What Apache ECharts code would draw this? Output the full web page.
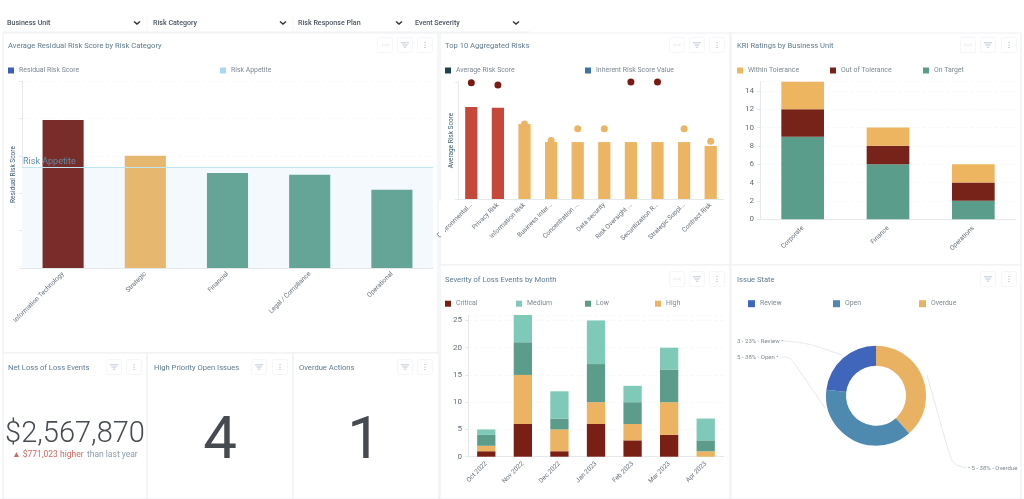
<!DOCTYPE html>
<html><head><meta charset="utf-8">
<style>html,body{margin:0;padding:0;background:#fff;overflow:hidden}#c{width:1024px;height:499px}</style>
<script src="https://cdn.jsdelivr.net/npm/echarts@6/dist/echarts.min.js"></script></head>
<body><div id="c"></div>
<script>
const filterLabels=['Business Unit','Risk Category','Risk Response Plan','Event Severity'];
const riskCategories=['Information Technology','Strategic','Financial','Legal / Compliance','Operational'];
const residualScores=[3.96,3.0,2.54,2.49,2.09];
const riskAppetite=2.7;
const topRisks=['Environmental...','Privacy Risk','Information Risk','Business Inter...','Concentration ...','Data security','Risk Oversight ...','Securitization R...','Strategic Suppl...','Contract Risk'];
const avgRiskScores=[11.8,11.7,9.6,7.3,7.3,7.3,7.3,7.3,7.3,6.8];
const inherentScores=[14.9,14.6,9.6,7.5,9,9,15,15,9,7.4];
const businessUnits=['Corporate','Finance','Operations'];
const kriOnTarget=[9,6,2];
const kriOut=[3,2,2];
const kriWithin=[3,2,2];
const months=['Oct 2022','Nov 2022','Dec 2022','Jan 2023','Feb 2023','Mar 2023','Apr 2023'];
const sevCritical=[1,6,1,6,3,4,0];
const sevHigh=[1,9,4,4,3,6,1];
const sevLow=[2,6,2,7,4,6,2];
const sevMedium=[1,5,5,8,3,4,4];
const issueStates=['Overdue','Open','Review'];
const issueCounts=[5,5,3];

const FONT='Roboto';
const TEAL='#64a597',ORANGE='#e6b76e',MAROON='#782d2a';
const residualColors=[MAROON,ORANGE,TEAL,TEAL,TEAL];
const avgColors=['#c5483a','#c5483a','#ecb563','#ecb563','#ecb563','#ecb563','#ecb563','#ecb563','#ecb563','#ecb563'];
const inhColors=['#7a1a14','#7a1a14','#ecb563','#ecb563','#ecb563','#ecb563','#7a1a14','#7a1a14','#ecb563','#ecb563'];
const pieColors=['#e9b262','#4e8ab0','#3f66bb'];

const panels=[[3,33,435,320],[440,33,290,232],[731,33,290,232],[440,265,290,234],[731,265,290,234],[3,353,144,146],[147,353,146,146],[293,353,146,146]];
const titles=[['Average Residual Risk Score by Risk Category',8,45.5],['Top 10 Aggregated Risks',445,45.5],['KRI Ratings by Business Unit',737,45.5],['Severity of Loss Events by Month',445,279],['Issue State',737,279],['Net Loss of Loss Events',8,367],['High Priority Open Issues',154,367],['Overdue Actions',299,367]];
const iconSets=[[385,405,425,45],[677,697,717,45],[968,988,1009,45],[677,697,717,279],[null,988,1009,279],[null,114,134,367],[null,259,280,367],[null,405,425,367]];
const filterPos=[[7,137],[153,283],[298,399],[415,516]];

const g=[];
panels.forEach(p=>g.push({type:'rect',z:0,shape:{x:p[0],y:p[1],width:p[2],height:p[3]},style:{fill:'#fff',stroke:'#eef0f2',lineWidth:1.2}}));
g.push({type:'line',z:0,shape:{x1:3,y1:32,x2:530,y2:32},style:{stroke:'#eef0f2',lineWidth:1}});
[147,293,397].forEach(x=>g.push({type:'line',z:0,shape:{x1:x,y1:16,x2:x,y2:32},style:{stroke:'#f4f5f6',lineWidth:1}}));
filterLabels.forEach((t,i)=>{
  g.push({type:'text',z:5,style:{x:filterPos[i][0],y:23,text:t,fill:'#4b5661',font:'500 7.1px '+FONT,verticalAlign:'middle'}});
  const c=filterPos[i][1];
  g.push({type:'polyline',z:5,shape:{points:[[c-3,21.5],[c,24],[c+3,21.5]]},style:{stroke:'#333',lineWidth:1.5,fill:null}});
});
function box(x,y){g.push({type:'rect',z:3,shape:{x:x-7.5,y:y-7.5,width:15,height:15,r:2},style:{fill:'#fff',stroke:'#f5f6f7',lineWidth:1}});}
iconSets.forEach(s=>{
  const y=s[3];
  if(s[0]!=null){box(s[0],y);const x=s[0];
    g.push({type:'line',z:5,shape:{x1:x-3,y1:y,x2:x+3,y2:y},style:{stroke:'#e6e9eb',lineWidth:.8}});
    g.push({type:'line',z:5,shape:{x1:x-3,y1:y-1.5,x2:x-3,y2:y+1.5},style:{stroke:'#e6e9eb',lineWidth:.8}});
    g.push({type:'line',z:5,shape:{x1:x+3,y1:y-1.5,x2:x+3,y2:y+1.5},style:{stroke:'#e6e9eb',lineWidth:.8}});}
  box(s[1],y);
  [[4,-2.2],[2.6,0],[1.2,2.2]].forEach(a=>g.push({type:'line',z:5,shape:{x1:s[1]-a[0],y1:y+a[1],x2:s[1]+a[0],y2:y+a[1]},style:{stroke:'#8ea3b3',lineWidth:.6}}));
  box(s[2],y);
  [-2.5,0,2.5].forEach(d=>g.push({type:'circle',z:5,shape:{cx:s[2],cy:y+d,r:.6},style:{fill:'#95a1ab'}}));
});
g.push({type:'rect',z:50,shape:{x:439,y:201,width:6,height:35},style:{fill:'#fff'}});
g.push({type:'text',z:5,style:{x:75,y:435,text:'$2,567,870',fill:'#454b50',font:'300 29px '+FONT,align:'center',verticalAlign:'middle'}});
g.push({type:'text',z:5,style:{x:75,y:454.5,align:'center',verticalAlign:'middle',text:'{a|▲ $771,023 higher} {b|than last year}',rich:{a:{fill:'#cb6a64',font:'8.5px '+FONT},b:{fill:'#8b9cab',font:'8.5px '+FONT}}}});
g.push({type:'text',z:5,style:{x:220,y:443,text:'4',fill:'#454b50',font:'400 60px '+FONT,align:'center',verticalAlign:'middle'}});
g.push({type:'text',z:5,style:{x:364,y:443,text:'1',fill:'#454b50',font:'400 60px '+FONT,align:'center',verticalAlign:'middle'}});

const grids=[{left:22,top:81,width:411,height:187},{left:458,top:82,width:266,height:117},{left:760,top:81.7,width:256,height:137.5},{left:468,top:315,width:256,height:141.7}];
const lineC='#e6e9ec',labC='#626d77';
function xA(i,data,margin){return {type:'category',gridIndex:i,data,axisTick:{show:false},axisLine:{lineStyle:{color:lineC}},axisLabel:{rotate:45,fontSize:6.5,color:labC,fontFamily:FONT,margin:margin||6,interval:0}};}
function yA(i,max,interval,showLabels,extra){return Object.assign({type:'value',gridIndex:i,min:0,max,interval,axisLine:{show:true,lineStyle:{color:lineC}},axisTick:{show:true,length:3,lineStyle:{color:lineC}},splitLine:{lineStyle:{color:'#f8f9fa',type:'dashed'}},axisLabel:{show:showLabels,fontSize:8,color:labC,fontFamily:FONT,margin:6,showMaxLabel:false,padding:[0,0,3,0]}},extra||{});}
const yName=(n,gap)=>({name:n,nameLocation:'middle',nameGap:gap,nameTextStyle:{fontSize:6.5,color:'#3f5f75',fontFamily:FONT}});
function leg(name,x,y,size){return {show:true,data:[name],left:x,top:y-2.5,orient:'horizontal',selectedMode:false,itemWidth:size||6,itemHeight:size||6,itemGap:3,padding:0,icon:'rect',textStyle:{fontSize:6.9,color:'#7d8993',fontFamily:FONT}};}

const total=issueCounts.reduce((a,b)=>a+b,0);
const pieLabelPos={Overdue:[968,468,'left'],Open:[737,357,'left'],Review:[737,341,'left']};
const pieLeaders={Overdue:[[927,375],[952,464],[967,468]],Open:[[780,357],[790,357],[825,408]],Review:[[783,341],[807,343],[842,355]]};

const option={
  animation:false,backgroundColor:'#fff',textStyle:{fontFamily:FONT},
  title:titles.map(t=>({text:t[0],left:t[1],top:t[2]-3,padding:0,textStyle:{fontSize:7.6,fontWeight:'normal',color:'#5f7a8d',fontFamily:FONT}})),
  graphic:{elements:g},
  grid:grids,
  legend:[leg('Residual Risk Score',8,69.5),leg('Risk Appetite',220,69.5),leg('Average Risk Score',445,69.5),leg('Inherent Risk Score Value',585,69.5),
    leg('Within Tolerance',737,69.5),leg('Out of Tolerance',830,69.5),leg('On Target',923,69.5),
    leg('Critical',445,302.7),leg('Medium',516,302.7),leg('Low',585,302.7),leg('High',655,302.7),
    leg('Review',748,302.7,7),leg('Open',833,302.7,7),leg('Overdue',919,302.7,7)],
  xAxis:[xA(0,riskCategories,5),xA(1,topRisks,5),xA(2,businessUnits,8),xA(3,months,6)],
  yAxis:[yA(0,5,1,false,yName('Residual Risk Score',5)),yA(1,15,15,false,Object.assign(yName('Average Risk Score',3),{splitLine:{show:false}})),yA(2,15,2,true),yA(3,26,5,true)],
  series:[
    {name:'Risk Appetite',type:'line',xAxisIndex:0,yAxisIndex:0,z:1,data:[],itemStyle:{color:'#a9d8f2'},symbol:'none',lineStyle:{width:0},
      markArea:{silent:true,itemStyle:{color:'#f3f9fd'},data:[[{yAxis:0},{yAxis:riskAppetite}]]}},
    {name:'Residual Risk Score',type:'bar',xAxisIndex:0,yAxisIndex:0,z:2,barWidth:'50%',itemStyle:{color:'#3a5fb5'},
      data:residualScores.map((v,i)=>({value:v,itemStyle:{color:residualColors[i]}})),
      markLine:{silent:true,z:5,symbol:'none',lineStyle:{color:'#bfe6f0',type:'solid',width:1},
        label:{show:true,position:'insideStartTop',formatter:'Risk Appetite',fontSize:9,color:'#5f8ea5',fontFamily:FONT,distance:[1,1]},data:[{yAxis:riskAppetite}]}},
    {name:'Average Risk Score',type:'bar',xAxisIndex:1,yAxisIndex:1,barWidth:'46%',itemStyle:{color:'#1f4250'},
      data:avgRiskScores.map((v,i)=>({value:v,itemStyle:{color:avgColors[i]}}))},
    {name:'Inherent Risk Score Value',type:'scatter',xAxisIndex:1,yAxisIndex:1,symbolSize:7,z:3,itemStyle:{color:'#3f72a5',opacity:1},
      data:inherentScores.map((v,i)=>({value:v,itemStyle:{color:inhColors[i],opacity:1}}))},
    {name:'On Target',type:'bar',stack:'k',xAxisIndex:2,yAxisIndex:2,barWidth:'50%',itemStyle:{color:'#5a9d8b'},data:kriOnTarget},
    {name:'Out of Tolerance',type:'bar',stack:'k',xAxisIndex:2,yAxisIndex:2,barWidth:'50%',itemStyle:{color:'#77231a'},data:kriOut},
    {name:'Within Tolerance',type:'bar',stack:'k',xAxisIndex:2,yAxisIndex:2,barWidth:'50%',itemStyle:{color:'#eeb561'},data:kriWithin},
    {name:'Critical',type:'bar',stack:'s',xAxisIndex:3,yAxisIndex:3,barWidth:'50%',itemStyle:{color:'#7a1f14'},data:sevCritical},
    {name:'High',type:'bar',stack:'s',xAxisIndex:3,yAxisIndex:3,barWidth:'50%',itemStyle:{color:'#ebb362'},data:sevHigh},
    {name:'Low',type:'bar',stack:'s',xAxisIndex:3,yAxisIndex:3,barWidth:'50%',itemStyle:{color:'#5b9d8a'},data:sevLow},
    {name:'Medium',type:'bar',stack:'s',xAxisIndex:3,yAxisIndex:3,barWidth:'50%',itemStyle:{color:'#7fc9b8'},data:sevMedium},
    {name:'Issue State',type:'pie',center:[876,395.7],radius:[30,50],startAngle:90,clockwise:true,
      data:issueStates.map((n,i)=>({name:n,value:issueCounts[i],itemStyle:{color:pieColors[i]}})),
      label:{formatter:p=>{const s=p.value+' - '+Math.round(p.value/total*100)+'% - '+p.name;return p.name==='Overdue'?'• '+s:s+' •';},fontSize:6,color:'#7d8993',fontFamily:FONT,overflow:'none',width:80},
      labelLine:{show:true,smooth:.3,lineStyle:{color:'#e6e8ea',width:1}},
      labelLayout:p=>{const n=issueStates[p.dataIndex],q=pieLabelPos[n];return {x:q[0],y:q[1],align:q[2],verticalAlign:'middle',labelLinePoints:pieLeaders[n]};}}
  ]
};
echarts.init(document.getElementById('c'),null,{renderer:'canvas'}).setOption(option);
</script></body></html>
